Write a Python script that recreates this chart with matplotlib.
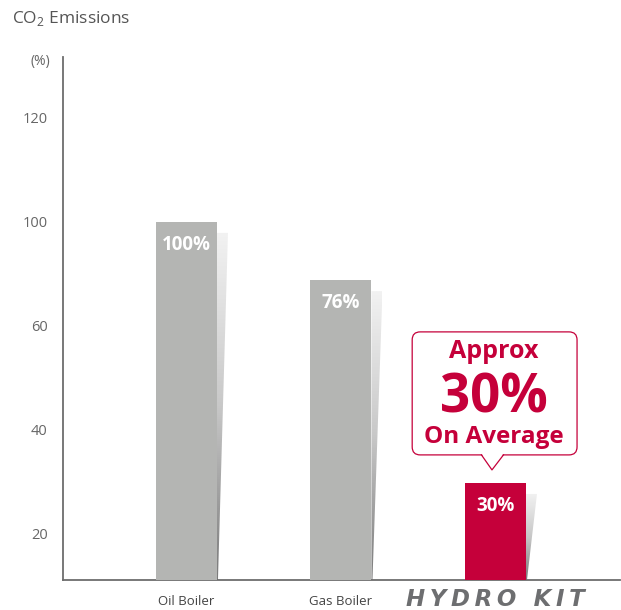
import matplotlib
matplotlib.use('Agg')
import matplotlib.pyplot as plt
import numpy as np
from matplotlib.patches import FancyBboxPatch, Polygon
from matplotlib.lines import Line2D
from matplotlib.colors import LinearSegmentedColormap

# ---- data ----
categories = ['Oil Boiler', 'Gas Boiler', 'HYDRO KIT']
bar_labels = ['100%', '76%', '30%']
bar_heights = [80.0, 68.8, 29.8]          # heights on the drawn axis scale
ytick_pos = [20, 40, 60, 80, 100]
ytick_labels = ['20', '40', '60', '100', '120']
bar_colors = ['#b4b5b3', '#b4b5b3', '#c5003a']
callout_lines = ['Approx', '30%', 'On Average']

plt.rcParams['font.family'] = ['Open Sans', 'DejaVu Sans']
plt.rcParams['mathtext.fontset'] = 'custom'
plt.rcParams['mathtext.rm'] = 'Open Sans'

W, H = 621, 610
fig = plt.figure(figsize=(W / 100, H / 100), dpi=100)
ax = fig.add_axes([63 / W, 1 - 580 / H, (620 - 63) / W, (580 - 57) / H])

ymin, ymax = 11.15, 111.7
xmin, xmax = -0.799, 2.806
px_x = (xmax - xmin) / (620 - 63)
px_y = (ymax - ymin) / (580 - 57)

x = np.arange(len(categories))
bw = 61 * px_x
ax.bar(x, np.array(bar_heights) - ymin, bottom=ymin, width=bw,
       color=bar_colors, zorder=3)

# shadows with a vertical gradient
cmap = LinearSegmentedColormap.from_list('sh', ['#f2f2f2', '#c8c8c8', '#7a7a7a'])
for xi, h in zip(x, bar_heights):
    xr = xi + bw / 2
    top = h - 11 * px_y
    sw = 11 * px_x
    poly = Polygon([(xr, top), (xr + sw, top), (xr + 1 * px_x, ymin), (xr, ymin)],
                   closed=True, facecolor='none', edgecolor='none')
    ax.add_patch(poly)
    grad = np.linspace(0, 1, 256).reshape(-1, 1)
    im = ax.imshow(grad, extent=[xr, xr + sw, ymin, top], origin='upper',
                   aspect='auto', cmap=cmap, zorder=2)
    im.set_clip_path(poly)

# bar value labels
for xi, h, lab in zip(x, bar_heights, bar_labels):
    ax.text(xi, h - 28 * px_y, lab, ha='center', va='baseline', color='white',
            fontsize=13.5, fontweight='bold', zorder=5)

# callout box
red = '#c5003a'
bx0, bx1 = 2 - 0.539, 2 + 0.528
by0, by1 = 35.2, 58.85
rx = 8 * px_x
box = FancyBboxPatch((bx0, by0), bx1 - bx0, by1 - by0,
                     boxstyle=f'round,pad=0,rounding_size={rx}',
                     mutation_aspect=px_y / px_x,
                     facecolor='white', edgecolor=red, linewidth=0.9, zorder=6)
ax.add_patch(box)
tl, tr, tip = 2 - 14 * px_x, 2 + 8 * px_x, (2 - 3.5 * px_x, by0 - 15 * px_y)
ax.add_patch(Polygon([(tl, by0 + 0.3), (tr, by0 + 0.3), tip], closed=True,
                     facecolor='white', edgecolor='none', zorder=7))
ax.add_line(Line2D([tl, tip[0], tr], [by0, tip[1], by0], color=red,
                   linewidth=0.9, zorder=8))
cx = 2 - 1.5 * px_x
ax.text(cx, 53.8, callout_lines[0], ha='center', va='baseline', color=red,
        fontsize=18, fontweight='bold', zorder=9)
ax.text(cx, 43.3, callout_lines[1], ha='center', va='baseline', color=red,
        fontsize=38, fontweight='bold', zorder=9)
ax.text(cx, 37.5, callout_lines[2], ha='center', va='baseline', color=red,
        fontsize=17.5, fontweight='bold', zorder=9)

ax.set_xlim(xmin, xmax)
ax.set_ylim(ymin, ymax)

# axes styling
for s in ['top', 'right']:
    ax.spines[s].set_visible(False)
for s in ['left', 'bottom']:
    ax.spines[s].set_color('#6d6d6d')
    ax.spines[s].set_linewidth(1.3)
ax.set_yticks(ytick_pos)
ax.set_yticklabels(ytick_labels)
ax.tick_params(axis='y', length=0, pad=11, labelsize=10.5, labelcolor='#666666')
ax.set_xticks(x[:2])
ax.set_xticklabels(categories[:2])
ax.tick_params(axis='x', length=0, pad=11, labelsize=9.5, labelcolor='#444444')

# stylised product name under the third bar
hk_text = '\u2009'.join(categories[2])
t = ax.text(x[2], -20 / (580 - 57), hk_text, transform=ax.get_xaxis_transform(),
            ha='center', va='center', fontfamily=['DejaVu Sans'],
            fontweight='heavy', fontstyle='italic', fontsize=16.5, color='#6d6e70')

fig.text(40 / W, 1 - 62 / H, '(%)', ha='center', va='center', fontsize=10,
         color='#666666')
fig.text(12 / W, 1 - 18 / H, r'CO$_\mathregular{2}$ Emissions', ha='left',
         va='center', fontsize=12.5, color='#555555')

fig.savefig('out.png', dpi=100)
